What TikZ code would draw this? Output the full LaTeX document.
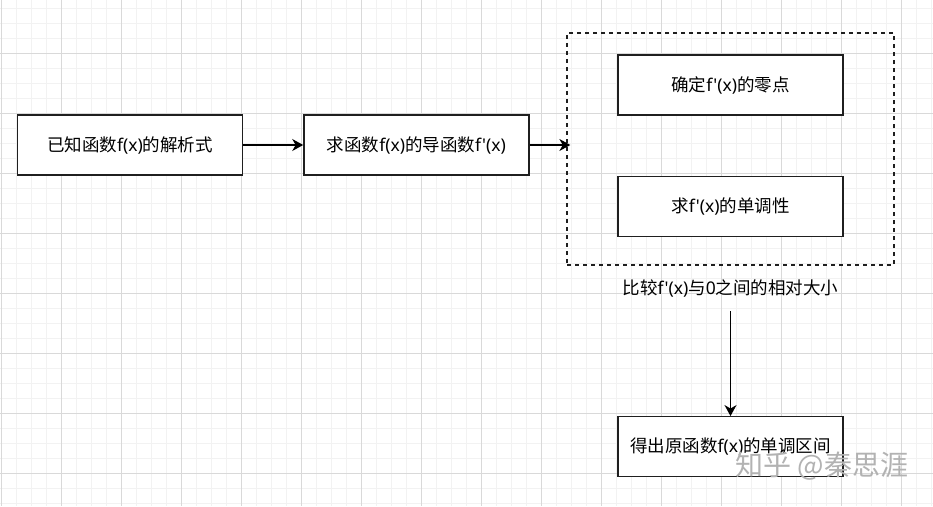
\documentclass[tikz,border=0pt]{standalone}
\usepackage{fontspec}
\setmainfont{Noto Sans CJK SC}[Ligatures=TeXOff]
\newfontfamily\latin{Noto Sans}[Ligatures=TeXOff]
\usetikzlibrary{positioning,arrows.meta}
\def\BoxWidth{225pt}
\def\BoxHeight{60pt}
\def\BoxGap{60pt}

\begin{document}
\begin{tikzpicture}[x=1pt,y=-1pt,
    minorgrid/.style={black!5,line width=1pt},
    majorgrid/.style={black!15,line width=1pt},
    box/.style={draw=black!88,line width=1.4pt,fill=white,minimum width=\BoxWidth,minimum height=\BoxHeight,inner sep=0pt,font=\fontsize{17.5}{20}\selectfont},
    flow/.style={-{Stealth[length=11pt,width=12pt,inset=3.5pt]},line width=1.3pt,black}]
    \useasboundingbox (0,0) rectangle (933,506);
    \fill[white] (0,0) rectangle (933,506);
    % grid
    \foreach \gx in {1.7,16.7,...,932} {\draw[minorgrid] (\gx,0) -- (\gx,506);}
    \foreach \gy in {8.5,23.5,...,506} {\draw[minorgrid] (0,\gy) -- (933,\gy);}
    \foreach \gx in {1.7,61.7,...,932} {\draw[majorgrid] (\gx,0) -- (\gx,506);}
    \foreach \gy in {53.5,113.5,...,506} {\draw[majorgrid] (0,\gy) -- (933,\gy);}
    % 
    \node[box] (known) at (130,145) {已知函数{\latin f(x)}的解析式};
    \node[box,right=\BoxGap of known] (deriv) {求函数{\latin f(x)}的导函数{\latin f'(x)}};
    % 
    \node[draw=black!88,line width=1.3pt,dash pattern=on 4pt off 4pt,minimum width=327pt,minimum height=232pt] (cmp) at (730.5,149) {};
    \node[box,below=22pt of cmp.north] (zero) {确定{\latin f'(x)}的零点};
    \node[box,below=\BoxGap of zero] (mono) {求{\latin f'(x)}的单调性};
    \node[below=0pt of cmp,minimum height=45pt,inner sep=0pt,font=\fontsize{17.5}{20}\selectfont] (cmplabel) {比较{\latin f'(x)}与{\latin 0}之间的相对大小};
    % 
    \node[box,below=105pt of cmplabel] (result) {得出原函数{\latin f(x)}的单调区间};
    % 
    \draw[flow] (known) -- (deriv);
    \draw[flow,shorten >=-4pt] (deriv.east) -- (deriv.east -| cmp.west);
    \draw[flow] (cmplabel) -- (result);
    % watermark
    \node[text=black!30,font=\fontsize{28}{32}\selectfont] (mark) at (822,466) {知乎 @秦思涯};
\end{tikzpicture}
\end{document}
